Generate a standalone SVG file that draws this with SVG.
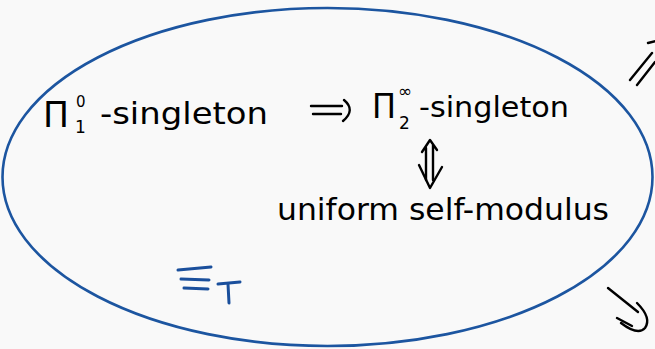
<svg xmlns="http://www.w3.org/2000/svg" width="655" height="349" viewBox="0 0 655 349">
<style>
.t{font-family:"DejaVu Sans","Liberation Sans",sans-serif;fill:#000;}
.b{fill:none;stroke:#1c55a0;stroke-width:2.6;}
.c{fill:none;stroke:#000;stroke-width:2.4;stroke-linecap:round;stroke-linejoin:round;}
.bl{fill:none;stroke:#1a4f9c;stroke-width:3;stroke-linecap:round;}
</style>
<rect width="655" height="349" fill="#f9f9f9"/>
<g id="ellipse">
<ellipse class="b" cx="327.5" cy="177" rx="325" ry="169"/>
</g>
<g id="n1">
<text class="t" x="43" y="127" font-size="36" textLength="26" lengthAdjust="spacingAndGlyphs">Π</text>
<text class="t" x="76" y="107" font-size="15">0</text>
<text class="t" x="75" y="133" font-size="17">1</text>
<text class="t" x="100" y="124" font-size="30" textLength="168" lengthAdjust="spacingAndGlyphs">-singleton</text>
</g>
<g id="n2">
<text class="t" x="372" y="118" font-size="34" textLength="24" lengthAdjust="spacingAndGlyphs">Π</text>
<text class="t" x="398" y="97" font-size="17">∞</text>
<text class="t" x="399" y="129" font-size="17">2</text>
<text class="t" x="419" y="117" font-size="29" textLength="150" lengthAdjust="spacingAndGlyphs">-singleton</text>
</g>
<g id="n3">
<text class="t" x="277" y="220" font-size="30" textLength="332" lengthAdjust="spacingAndGlyphs">uniform self-modulus</text>
</g>
<g id="n4">
<path class="bl" d="M178 270 L211 267 M181 279 L209 280 M184 288 L208 289"/>
<path class="bl" d="M218 284 L240 282 M228 284 L229 303"/>
</g>
<g id="connectors">
<path class="c" d="M311 106 L342 106 M313 114 L341 114 M344 100 Q356 110 343 121"/>
<path class="c" d="M426 180 L426 148 M433 180 L433 145 M422 152 L430 140 L437 150"/>
<path class="c" d="M419 165 L430 188 L442 167"/>
<path class="c" d="M630 80 L652 53 M637 85 L655 62 M648 43 L656 41"/>
<path class="c" d="M608 288 L638 312 M617 318 L632 326 M637 303 Q652 318 645 328 Q638 336 621 323"/>
</g>
</svg>
